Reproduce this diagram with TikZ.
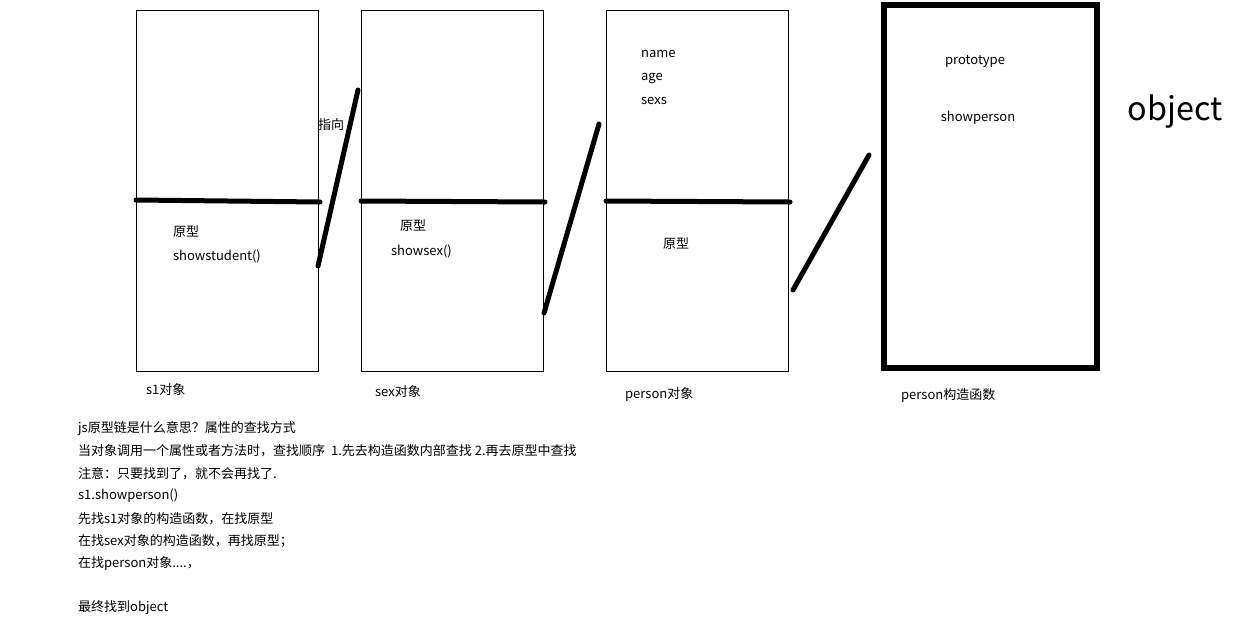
\documentclass[tikz,border=0pt]{standalone}
\usepackage{fontspec}
\setmainfont{Noto Sans CJK SC}
\usetikzlibrary{positioning}
\tikzset{
  objbox/.style={draw,line width=0.5mm},
  ctorbox/.style={draw,line width=3mm},
  divider/.style={line width=2.5mm,line cap=round},
  link/.style={line width=2.5mm,line cap=round},
  txt/.style={font=\fontsize{18.5}{21}\selectfont,inner sep=0pt,anchor=west},
}

\begin{document}
\begin{tikzpicture}[x=0.5mm,y=-0.5mm]
    \useasboundingbox (0,0) rectangle (1236,637);
    % the three objects and the constructor
    \draw[objbox] (136,10) rectangle (318,371);
    \draw[objbox] (361,10) rectangle (543,371);
    \draw[objbox] (606,10) rectangle (788,371);
    \draw[ctorbox] (884,5) rectangle (1097,368);
    \draw[divider] (136,200) -- (320,202);
    \draw[divider] (361,201) -- (545,202);
    \draw[divider] (606,201) -- (790,202);
    % links between them
    \coordinate (s1out) at (318,266);
    \coordinate (sexin) at (358,90);
    \coordinate (sexout) at (544,313);
    \coordinate (perin) at (599,124);
    \coordinate (perout) at (793,290);
    \coordinate (ctorin) at (869,155);
    \draw[link] (s1out) -- (sexin);
    \draw[link] (sexout) -- (perin);
    \draw[link] (perout) -- (ctorin);
    \node[txt] (pointto) at (318,125) {指向};
    % box contents
    \node[txt] (s1proto) at (173,232) {原型};
    \node[txt] (s1show) at (173,256) {showstudent()};
    \node[txt] (sexproto) at (400,226) {原型};
    \node[txt] (sexshow) at (391,251) {showsex()};
    \node[txt] (pname) at (641,54) {name};
    \node[txt] (page) at (641,78) {age};
    \node[txt] (psexs) at (641,101) {sexs};
    \node[txt] (pproto) at (663,244) {原型};
    \node[txt,anchor=center] (cproto) at (975,61) {prototype};
    \node[txt,anchor=center] (cshow) at (978,118) {showperson};
    \node[font=\fontsize{46}{50}\selectfont,inner sep=0pt] (obj) at (1175,112) {object};
    % captions
    \node[txt] (s1cap) at (146,390) {s1对象};
    \node[txt] (sexcap) at (375,392) {sex对象};
    \node[txt] (percap) at (625,394) {person对象};
    \node[txt] (ctorcap) at (901,396) {person构造函数};
    % notes
    \foreach \y/\t [count=\i] in {429/{js原型链是什么意思？属性的查找方式},
        451/{当对象调用一个属性或者方法时，查找顺序~~1.先去构造函数内部查找 2.再去原型中查找},
        474/{注意：只要找到了，就不会再找了.},
        496/{s1.showperson()},
        519/{先找s1对象的构造函数，在找原型},
        541/{在找sex对象的构造函数，再找原型；},
        563/{在找person对象....，},
        608/{最终找到object}}
      \node[txt] (note\i) at (78,\y) {\t};
  \end{tikzpicture}
\end{document}
